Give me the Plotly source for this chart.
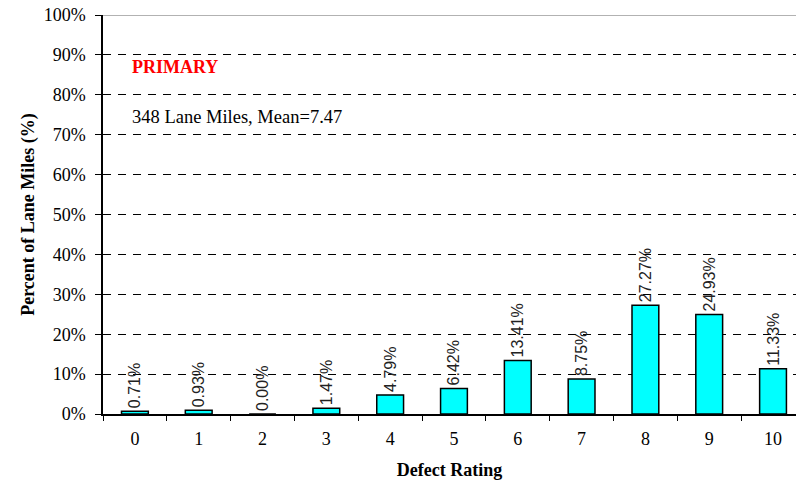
import plotly.graph_objects as go

categories = ["0", "1", "2", "3", "4", "5", "6", "7", "8", "9", "10"]
percent = [0.71, 0.93, 0.00, 1.47, 4.79, 6.42, 13.41, 8.75, 27.27, 24.93, 11.33]
y_ticks = [0, 10, 20, 30, 40, 50, 60, 70, 80, 90, 100]
y_tick_labels = [f"{v}%" for v in y_ticks]
bar_labels = [f"{v:.2f}%" for v in percent]

serif = "Liberation Serif, Times New Roman, serif"
sans = "Liberation Sans, Arial, sans-serif"

fig = go.Figure()
fig.add_trace(go.Bar(
    x=list(range(len(categories))),
    y=percent,
    width=0.42,
    marker=dict(color="#00FFFF", line=dict(color="#000000", width=1.5)),
    text=bar_labels,
    textposition="outside",
    textangle=-90,
    textfont=dict(family=sans, size=16, color="#222222"),
    constraintext="none",
    cliponaxis=False,
    hoverinfo="skip",
))

fig.add_annotation(x=0.039, y=0.87, xref="paper", yref="paper", text="<b>PRIMARY</b>",
                   showarrow=False, xanchor="left", yanchor="middle",
                   font=dict(family=serif, size=18, color="#FF0000"))
fig.add_annotation(x=0.039, y=0.744, xref="paper", yref="paper", text="348 Lane Miles, Mean=7.47",
                   showarrow=False, xanchor="left", yanchor="middle",
                   font=dict(family=serif, size=18.5, color="#000000"))

fig.update_layout(
    width=796, height=483,
    margin=dict(l=103, r=0, t=15, b=69),
    plot_bgcolor="white", paper_bgcolor="white",
    showlegend=False,
    xaxis=dict(
        range=[-0.5, 10.36],
        tickmode="array",
        tickvals=list(range(len(categories))),
        ticktext=categories,
        showgrid=False,
        zeroline=False,
        showline=True, linecolor="#000000", linewidth=1.5,
        ticks="",
        ticklabelstandoff=8,
        tickfont=dict(family=serif, size=18, color="#000000"),
        title=dict(text="<b>Defect Rating</b>", font=dict(family=serif, size=18, color="#000000"), standoff=15),
        fixedrange=True,
    ),
    xaxis2=dict(
        overlaying="x", matches="x", side="bottom",
        tickmode="array",
        tickvals=[i - 0.5 for i in range(len(categories) + 1)],
        ticktext=["" for _ in range(len(categories) + 1)],
        ticks="outside", ticklen=6, tickcolor="#000000", tickwidth=1,
        showgrid=False, zeroline=False, showline=False,
        anchor="y",
    ),
    yaxis=dict(
        range=[0, 100],
        tickmode="array",
        tickvals=y_ticks,
        ticktext=y_tick_labels,
        showgrid=True, gridcolor="#000000", gridwidth=1, griddash="8px,7px",
        zeroline=False,
        showline=True, linecolor="#000000", linewidth=1.5,
        ticks="outside", ticklen=6, tickcolor="#000000",
        ticklabelstandoff=6,
        tickfont=dict(family=serif, size=18, color="#000000"),
        title=dict(text="<b>Percent of Lane Miles (%)</b>", font=dict(family=serif, size=18, color="#000000"), standoff=4),
        fixedrange=True,
    ),
)

# invisible trace to activate xaxis2 for boundary tick marks
fig.add_trace(go.Scatter(x=[0], y=[0], xaxis="x2", yaxis="y", mode="markers",
                         marker=dict(opacity=0), hoverinfo="skip", showlegend=False))

# top border line (100%) in gray
fig.add_shape(type="line", xref="paper", yref="y", x0=0, x1=1, y0=100, y1=100,
              line=dict(color="#999999", width=1.5))

fig.write_html("out.html", config={"displayModeBar": False},
               post_script="document.body.style.margin='0';document.body.style.overflow='hidden';")
